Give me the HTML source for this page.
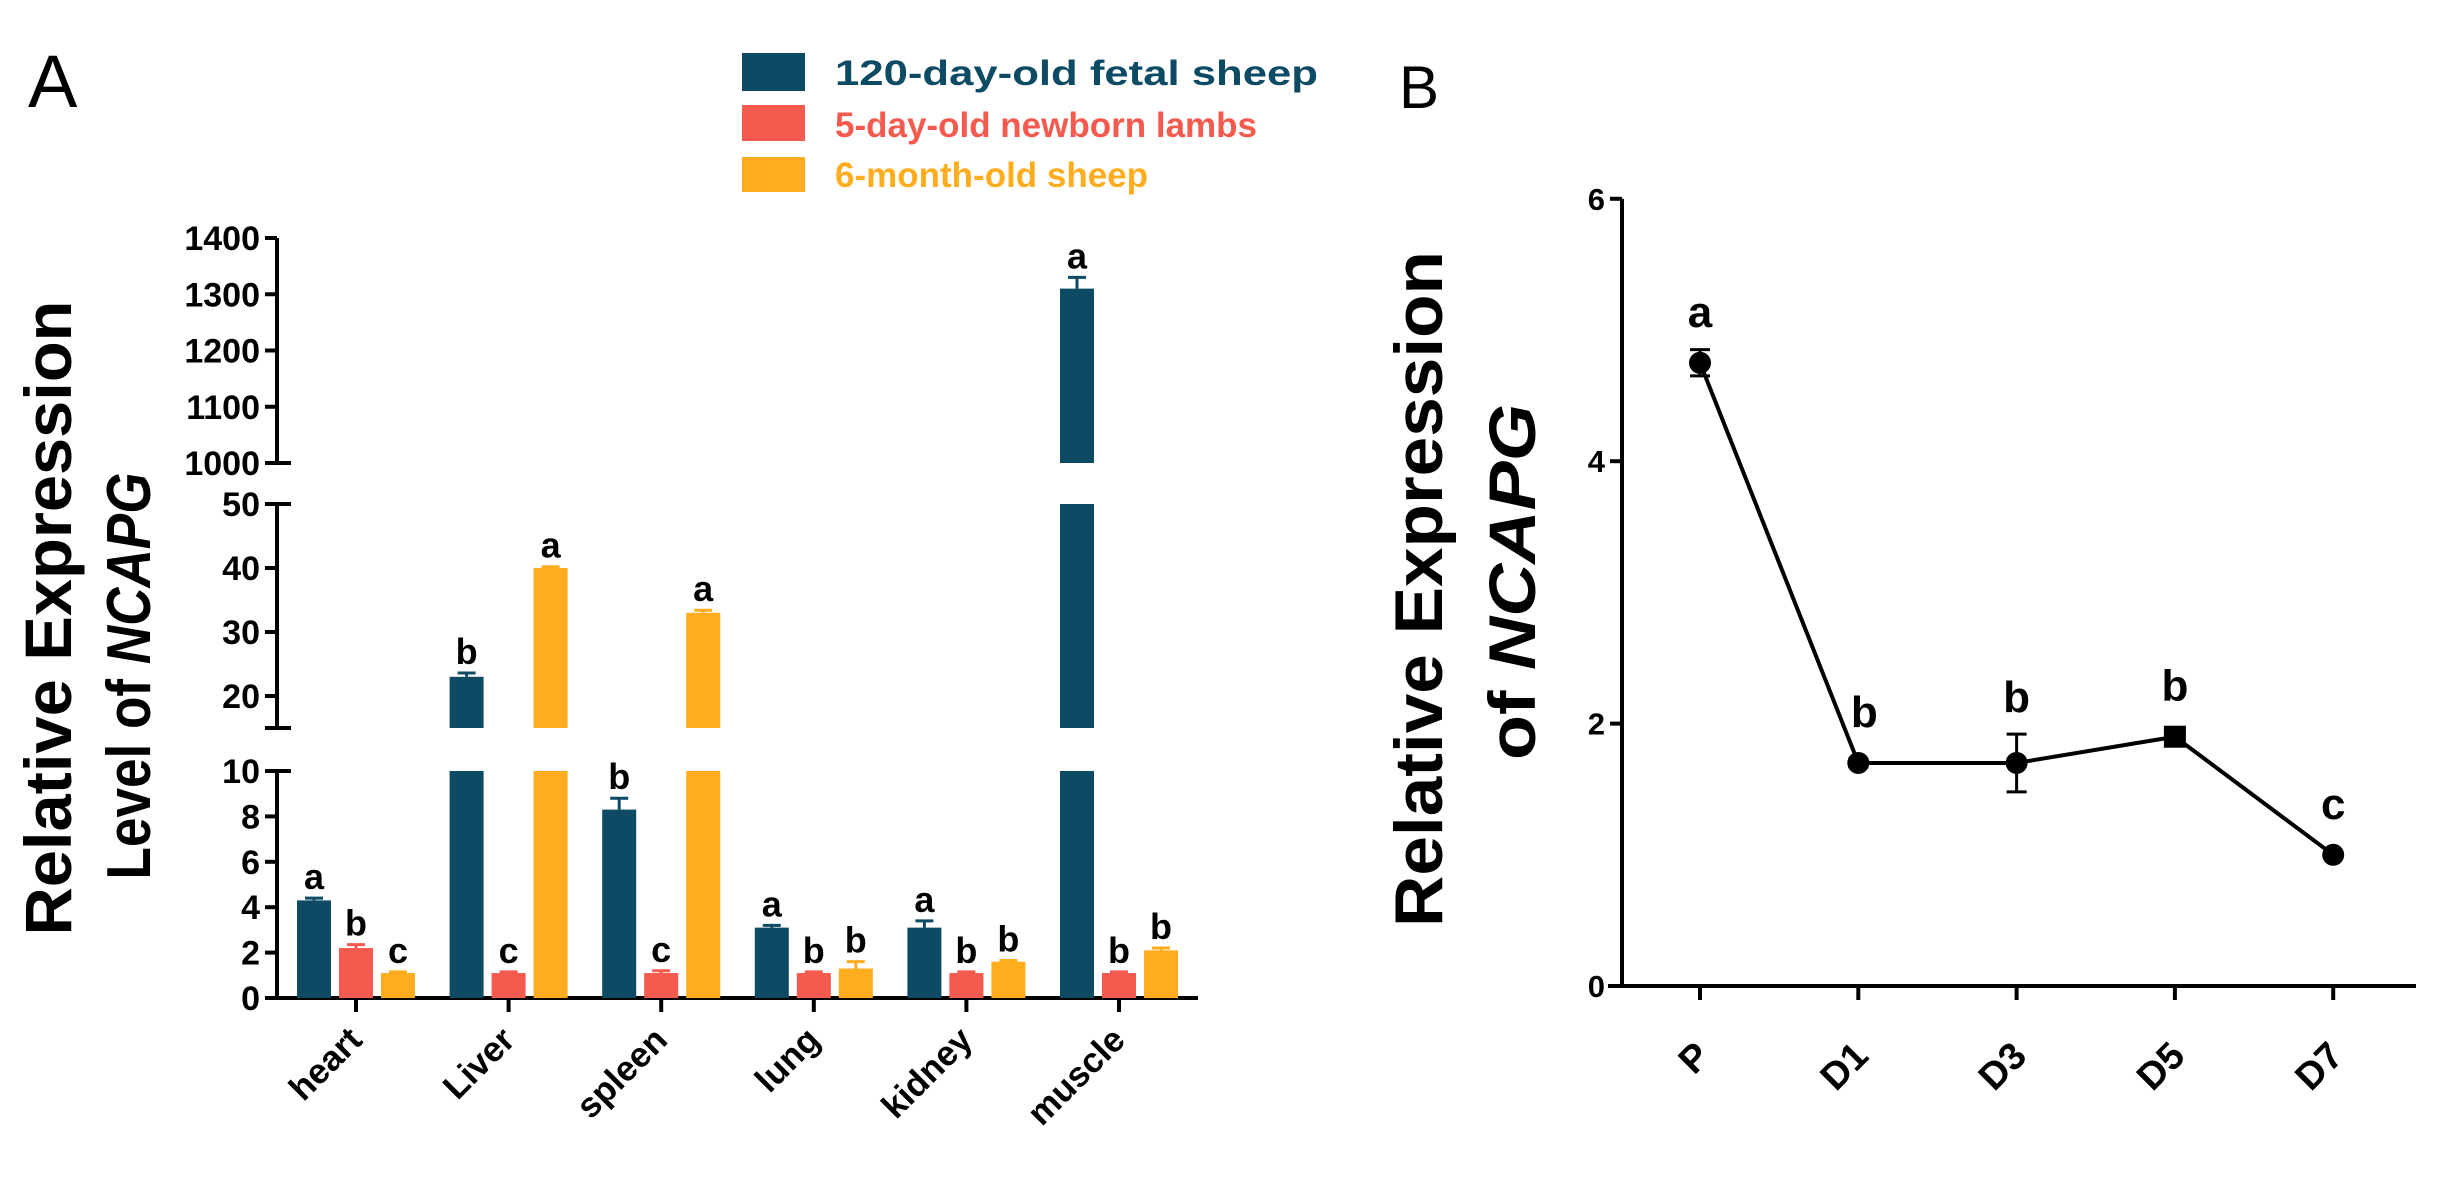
<!DOCTYPE html>
<html><head><meta charset="utf-8"><style>
html,body{margin:0;padding:0;background:#fff;}
svg{display:block;font-family:"Liberation Sans",Arial,sans-serif;}
</style></head><body>
<svg id="fig" width="2443" height="1177" viewBox="0 0 2443 1177" xmlns="http://www.w3.org/2000/svg">
<text x="28" y="107" font-size="74">A</text>
<text x="1399" y="108" font-size="60">B</text>
<g>
<rect x="742" y="53" width="63" height="38" fill="#0d4a63"/>
<text x="835" y="85" font-size="35" font-weight="bold" fill="#0d4a63" textLength="483" lengthAdjust="spacingAndGlyphs">120-day-old fetal sheep</text>
<rect x="742" y="105" width="63" height="36" fill="#f55a4e"/>
<text x="835" y="137" font-size="35" font-weight="bold" fill="#f55a4e">5-day-old newborn lambs</text>
<rect x="742" y="157" width="63" height="35" fill="#ffad1f"/>
<text x="835" y="187" font-size="35" font-weight="bold" fill="#ffad1f">6-month-old sheep</text>
</g>
<text transform="translate(71,618) rotate(-90)" text-anchor="middle" font-size="66" font-weight="bold" textLength="635" lengthAdjust="spacingAndGlyphs">Relative Expression</text>
<text transform="translate(150,676) rotate(-90)" text-anchor="middle" font-size="62" font-weight="bold" textLength="407" lengthAdjust="spacingAndGlyphs">Level of <tspan font-style="italic">NCAPG</tspan></text>
<text transform="translate(1442,589) rotate(-90)" text-anchor="middle" font-size="68" font-weight="bold" textLength="676" lengthAdjust="spacingAndGlyphs">Relative Expression</text>
<text transform="translate(1535,582) rotate(-90)" text-anchor="middle" font-size="66" font-weight="bold" textLength="356" lengthAdjust="spacingAndGlyphs">of <tspan font-style="italic">NCAPG</tspan></text>
<g id="pa"></g>
<g id="pb"></g>
</svg>
<script>
const tissues=["heart","Liver","spleen","lung","kidney","muscle"];
const fetal=[4.3,23,8.3,3.1,3.1,1310];
const fetalErr=[0.1,0.6,0.5,0.1,0.3,20];
const newborn=[2.2,1.1,1.1,1.1,1.1,1.1];
const newbornErr=[0.15,0.05,0.1,0.05,0.05,0.05];
const adult=[1.1,40,33,1.3,1.6,2.1];
const adultErr=[0.05,0.2,0.4,0.3,0.05,0.1];
const fetalSig=["a","b","b","a","a","a"];
const newbornSig=["b","c","c","b","b","b"];
const adultSig=["c","a","a","b","b","b"];
const ticksLow=[0,2,4,6,8,10];
const ticksMid=[20,30,40,50];
const ticksHigh=[1000,1100,1200,1300,1400];
const days=["P","D1","D3","D5","D7"];
const expr=[4.75,1.7,1.7,1.9,1.0];
const exprErr=[0.1,0.03,0.22,0.03,0.02];
const exprSig=["a","b","b","b","c"];
const markerShape=["circle","circle","circle","square","circle"];
const ticksB=[0,2,4,6];

const NS="http://www.w3.org/2000/svg";
function mk(parent,tag,attrs,txt){const e=document.createElementNS(NS,tag);for(const k in attrs)e.setAttribute(k,attrs[k]);if(txt!==undefined)e.textContent=txt;parent.appendChild(e);return e;}
const AX=277;
function yA(v){
  if(v<=10) return 998-v*22.7;
  if(v<=50) return 504+(50-v)*6.4;
  return 463-(v-1000)*0.5625;
}
function segOf(v){return v<=10?0:(v<=50?1:2);}
const segs=[[0,10],[15,50],[1000,1400]];
function xA(i){return 356+i*152.6;}
const pa=document.getElementById('pa');
segs.forEach((s,k)=>{
  const l=mk(pa,'line',{x1:AX,x2:AX,y1:yA(s[0])+(k==0?2:0),y2:yA(s[1]),stroke:'#000','stroke-width':4});
  
  
});
mk(pa,'line',{x1:AX-12,x2:AX+14,y1:yA(15),y2:yA(15),stroke:'#000','stroke-width':4});
mk(pa,'line',{x1:AX,x2:AX+14,y1:yA(1000),y2:yA(1000),stroke:'#000','stroke-width':4});
mk(pa,'line',{x1:AX,x2:AX+14,y1:yA(50),y2:yA(50),stroke:'#000','stroke-width':4});
mk(pa,'line',{x1:AX,x2:AX+14,y1:yA(10),y2:yA(10),stroke:'#000','stroke-width':4});
[[ticksLow],[ticksMid],[ticksHigh]].forEach(([arr])=>{
  arr.forEach(t=>{
    mk(pa,'line',{x1:AX-12,x2:AX,y1:yA(t),y2:yA(t),stroke:'#000','stroke-width':4});
    const tx=mk(pa,'text',{x:AX-17,y:yA(t)+12,'text-anchor':'end','font-size':34,'font-weight':'bold'},t);
    
    
  });
});
const xax=mk(pa,'line',{x1:AX-12,x2:1198,y1:998,y2:998,stroke:'#000','stroke-width':4});


const series=[[fetal,fetalErr,fetalSig,'#0d4a63',-42],[newborn,newbornErr,newbornSig,'#f55a4e',0],[adult,adultErr,adultSig,'#ffad1f',42]];
tissues.forEach((t,i)=>{
  const cx=xA(i);
  mk(pa,'line',{x1:cx,x2:cx,y1:998,y2:1012,stroke:'#000','stroke-width':4});
  const lb=mk(pa,'text',{transform:`translate(${cx+8},${1042}) rotate(-45)`,'text-anchor':'end','font-size':35,'font-weight':'bold'},t);
  
  
  series.forEach(([vals,errs,sig,col,off])=>{
    const v=vals[i],e=errs[i],bx=cx+off-17,w=34;
    const top=segOf(v);
    for(let k=0;k<=top;k++){
      const lo=segs[k][0],hi=k==top?v:segs[k][1];
      const r=mk(pa,'rect',{x:bx,y:yA(hi),width:w,height:yA(lo)-yA(hi),fill:col});
      
      
    }
    const ye=yA(v+e);
    mk(pa,'line',{x1:cx+off,x2:cx+off,y1:yA(v),y2:ye,stroke:col,'stroke-width':3});
    mk(pa,'line',{x1:cx+off-9,x2:cx+off+9,y1:ye,y2:ye,stroke:col,'stroke-width':3});
    const s=mk(pa,'text',{x:cx+off,y:ye-9,'text-anchor':'middle','font-size':36,'font-weight':'bold'},sig[i]);
    
    
  });
});
const BX=1622;
function yB(v){return 986-v*131.2;}
function xB(i){return 1700+i*158.3;}
const pb=document.getElementById('pb');
const yb=mk(pb,'line',{x1:BX,x2:BX,y1:yB(6),y2:yB(0),stroke:'#000','stroke-width':4});


const xb=mk(pb,'line',{x1:BX-14,x2:2416,y1:yB(0),y2:yB(0),stroke:'#000','stroke-width':4});


ticksB.forEach(t=>{
  mk(pb,'line',{x1:BX-12,x2:BX,y1:yB(t),y2:yB(t),stroke:'#000','stroke-width':4});
  const tx=mk(pb,'text',{x:BX-17,y:yB(t)+11,'text-anchor':'end','font-size':31,'font-weight':'bold'},t);
  
  
});
let pts=days.map((d,i)=>xB(i)+','+yB(expr[i])).join(' ');
const ln=mk(pb,'polyline',{points:pts,fill:'none',stroke:'#000','stroke-width':4});


days.forEach((d,i)=>{
  const cx=xB(i),cy=yB(expr[i]);
  mk(pb,'line',{x1:cx,x2:cx,y1:yB(0),y2:yB(0)+14,stroke:'#000','stroke-width':4});
  const lb=mk(pb,'text',{transform:`translate(${cx+12},${1058}) rotate(-45)`,'text-anchor':'end','font-size':38,'font-weight':'bold'},d);
  
  
  const y1=yB(expr[i]+exprErr[i]),y2=yB(expr[i]-exprErr[i]);
  mk(pb,'line',{x1:cx,x2:cx,y1:y1,y2:y2,stroke:'#000','stroke-width':3});
  mk(pb,'line',{x1:cx-10,x2:cx+10,y1:y1,y2:y1,stroke:'#000','stroke-width':3});
  mk(pb,'line',{x1:cx-10,x2:cx+10,y1:y2,y2:y2,stroke:'#000','stroke-width':3});
  let p;
  if(markerShape[i]=="square") p=mk(pb,'rect',{x:cx-11,y:cy-11,width:22,height:22,fill:'#000'});
  else p=mk(pb,'circle',{cx:cx,cy:cy,r:11,fill:'#000'});
  
  
  const s=mk(pb,'text',{x:cx+(i==1?6:0),y:Math.min(y1,cy-14)-22,'text-anchor':'middle','font-size':44,'font-weight':'bold'},exprSig[i]);
  
  
});
</script>
</body></html>
